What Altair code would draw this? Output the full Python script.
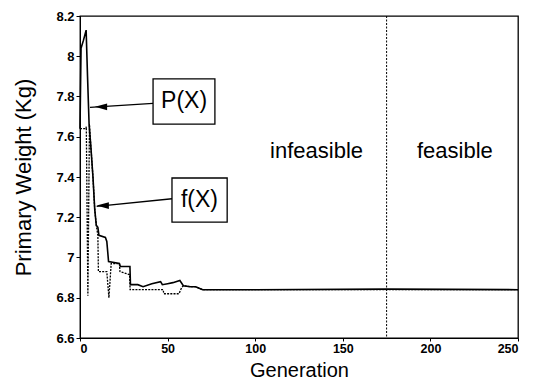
import altair as alt
import pandas as pd

# P(X): penalized objective (solid)
p_gen = [0, 0.6, 2, 3.5, 4.3, 5.2, 6.2, 7.4, 8.4, 9.3, 10.2, 10.8, 14.5, 15.3, 16.3, 22.5, 23, 28.5, 28.8,
         33, 36, 41, 46, 47, 50, 53, 57, 59, 63, 66, 70, 100, 175, 250]
p_val = [7.64, 8.04, 8.08, 8.13, 7.9, 7.66, 7.55, 7.40, 7.24, 7.16, 7.15, 7.11, 7.10, 7.08, 6.98, 6.97, 6.955,
         6.955, 6.865, 6.865, 6.855, 6.87, 6.88, 6.865, 6.87, 6.875, 6.886, 6.86, 6.855, 6.855, 6.84, 6.84,
         6.843, 6.84]

# f(X): objective (dotted)
f_gen = [0, 3.4, 3.6, 4.5, 5.4, 6.2, 7.4, 8.4, 9.3, 10.2, 10.5, 15.3, 16.5, 17.8, 22.5, 22.8, 28.3, 28.6,
         34, 47.5, 47.8, 56.5, 58, 59, 63, 66, 70, 250]
f_val = [7.64, 7.64, 7.65, 6.81, 7.66, 7.55, 7.40, 7.24, 7.16, 7.11, 6.93, 6.93, 6.80, 6.97, 6.97, 6.93,
         6.915, 6.84, 6.84, 6.84, 6.82, 6.82, 6.85, 6.86, 6.855, 6.855, 6.84, 6.84]

x_ticks = [0, 50, 100, 150, 200, 250]
y_ticks = [6.6, 6.8, 7.0, 7.2, 7.4, 7.6, 7.8, 8.0, 8.2]
boundary = 175

region_labels = ["infeasible", "feasible"]
region_x = [135, 214]
region_y = [7.53, 7.53]

box_labels = ["P(X)", "f(X)"]
box_x1 = [41.7, 52.5]
box_x2 = [77.0, 84.0]
box_y1 = [7.888, 7.395]
box_y2 = [7.663, 7.176]
box_tx = [59.4, 68.2]
box_ty = [7.776, 7.285]
arrow_x1 = [41.7, 52.5]
arrow_y1 = [7.766, 7.292]
arrow_x2 = [5.7, 9.5]
arrow_y2 = [7.746, 7.254]
head_x = [12.0, 13.0]
head_y = [7.749, 7.258]

FONT = "Liberation Sans"
xs = alt.Scale(domain=[0, 250], nice=False, zero=False)
ys = alt.Scale(domain=[6.6, 8.2], nice=False, zero=False)

dp = pd.DataFrame({"gen": p_gen, "val": p_val})
df = pd.DataFrame({"gen": f_gen, "val": f_val})
dr = pd.DataFrame({"label": region_labels, "x": region_x, "y": region_y})
db = pd.DataFrame({"label": box_labels, "x1": box_x1, "x2": box_x2, "y1": box_y1, "y2": box_y2,
                   "tx": box_tx, "ty": box_ty})
da = pd.DataFrame({"label": box_labels * 2,
                   "x": arrow_x1 + arrow_x2, "y": arrow_y1 + arrow_y2,
                   "o": [0, 0, 1, 1]})
dh = pd.DataFrame({"label": box_labels, "x": head_x, "y": head_y})

xaxis = alt.Axis(values=x_ticks, title="Generation", grid=False, domainColor="black",
                 tickColor="black", tickSize=3, labelFont=FONT, labelFontSize=12.5,
                 labelFontWeight="bold", labelColor="black", labelPadding=1,
                 titleFont=FONT, titleFontSize=20, titleFontWeight="normal", titleColor="black",
                 titleY=38, titleBaseline="alphabetic")
yaxis = alt.Axis(values=y_ticks, title="Primary Weight (Kg)", grid=False, format="~g",
                 domainColor="black", tickColor="black", tickSize=4, labelFont=FONT,
                 labelFontSize=13, labelFontWeight="bold", labelColor="black", labelPadding=2,
                 titleFont=FONT, titleFontSize=22, titleFontWeight="normal", titleColor="black",
                 titleX=-45, titleY=161, titleBaseline="bottom", titleAlign="center")


def X(f):
    return alt.X(f, type="quantitative", scale=xs, axis=xaxis)


def Y(f):
    return alt.Y(f, type="quantitative", scale=ys, axis=yaxis)


p_line = alt.Chart(dp).mark_line(color="black", strokeWidth=1.6).encode(x=X("gen"), y=Y("val"))
f_line = alt.Chart(df).mark_line(color="black", strokeWidth=1.3, strokeDash=[2, 1.2]).encode(
    x=X("gen"), y=Y("val"))
rule = alt.Chart(pd.DataFrame({"x": [boundary]})).mark_rule(
    color="black", strokeWidth=1, strokeDash=[2, 1.5]).encode(x=X("x"))
regions = alt.Chart(dr).mark_text(font=FONT, fontSize=22, color="black").encode(
    x=X("x"), y=Y("y"), text="label:N")
arrows = alt.Chart(da).mark_line(color="black", strokeWidth=1.4).encode(
    x=X("x"), y=Y("y"), detail="label:N", order="o:Q")
heads = alt.Chart(dh).mark_point(
    shape="M -1 0 L 1 -0.55 L 1 0.55 Z", size=150, filled=True, color="black", opacity=1).encode(
    x=X("x"), y=Y("y"))
boxes = alt.Chart(db).mark_rect(fill="white", stroke="black", strokeWidth=1.3).encode(
    x=X("x1"), x2="x2:Q", y=Y("y1"), y2="y2:Q")
box_text = alt.Chart(db).mark_text(font=FONT, fontSize=23, color="black").encode(
    x=X("tx"), y=Y("ty"), text="label:N")

chart = alt.layer(rule, f_line, p_line, arrows, heads, boxes, box_text, regions).properties(
    width=438, height=322,
    autosize=alt.AutoSizeParams(type="none"),
    padding={"left": 72, "top": 8, "right": 14, "bottom": 43},
).configure(background="white").configure_view(stroke="black", strokeWidth=1.3)

chart.save("out.html", embed_options={"renderer": "svg", "actions": False})
